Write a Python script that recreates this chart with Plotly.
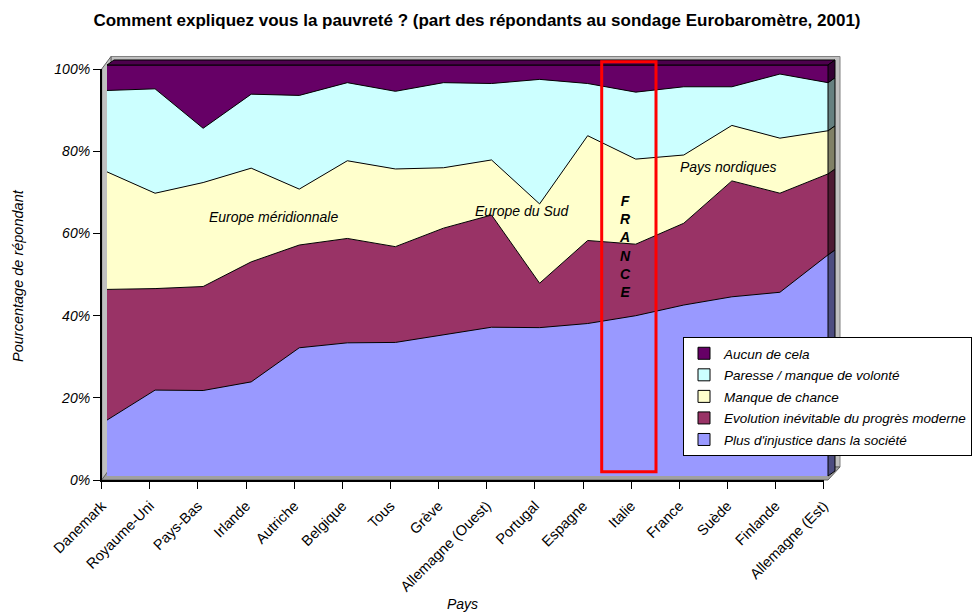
import plotly.graph_objects as go

# ---------------- data ----------------
countries = ["Danemark", "Royaume-Uni", "Pays-Bas", "Irlande", "Autriche", "Belgique",
             "Tous", "Grève", "Allemagne (Ouest)", "Portugal", "Espagne", "Italie",
             "France", "Suède", "Finlande", "Allemagne (Est)"]
injustice = [13.6, 20.9, 20.8, 22.9, 31.2, 32.4, 32.5, 34.3, 36.2, 36.1, 37.1, 39.0, 41.6, 43.6, 44.7, 53.8]
evolution = [31.8, 24.7, 25.3, 29.2, 25.0, 25.4, 23.3, 26.0, 27.3, 10.8, 20.2, 17.4, 19.9, 28.2, 24.1, 19.7]
malchance = [28.6, 23.2, 25.3, 22.8, 13.6, 18.9, 18.9, 14.7, 13.4, 19.3, 25.5, 20.7, 16.6, 13.5, 13.4, 10.5]
paresse = [19.8, 25.4, 13.2, 18.0, 22.8, 19.0, 18.9, 20.7, 18.6, 30.3, 12.7, 16.3, 16.6, 9.4, 15.6, 11.7]
aucun = [6.2, 5.8, 15.4, 7.1, 7.4, 4.3, 6.4, 4.3, 4.5, 3.5, 4.5, 6.6, 5.3, 5.3, 2.2, 4.3]

series_names = ["Plus d'injustice dans la société",
                "Evolution inévitable du progrès moderne",
                "Manque de chance",
                "Paresse / manque de volonté",
                "Aucun de cela"]
series_values = [injustice, evolution, malchance, paresse, aucun]
colors = ["#9999FF", "#993366", "#FFFFCC", "#CCFFFF", "#660066"]
side_colors = ["#4D4D80", "#4D1A33", "#808066", "#668080", "#330033"]
y_ticks = [0, 20, 40, 60, 80, 100]
y_tick_text = ["0%", "20%", "40%", "60%", "80%", "100%"]

title = "Comment expliquez vous la pauvreté ? (part des répondants au sondage Eurobaromètre, 2001)"

W, H = 973, 612
FONT = "Liberation Sans, Arial, sans-serif"


def fx(px):
    return px / W


def fy(py):
    return 1 - py / H


# plot area (front face of the 3D areas)
L, R, T, B = 107, 828, 65, 476
DX, DY = 7, 5  # depth of the 3D effect

fig = go.Figure()

for name, vals, col in zip(series_names, series_values, colors):
    fig.add_trace(go.Scatter(
        x=countries, y=vals, name=name, mode="lines",
        stackgroup="one", groupnorm="percent",
        line=dict(color="black", width=1), fillcolor=col,
        showlegend=False, hoverinfo="x+y+name",
    ))

# legend entries (square swatches)
for name, col in reversed(list(zip(series_names, colors))):
    fig.add_trace(go.Bar(
        x=[None], y=[None], name=name, legendgroup=name,
        marker=dict(color=col, line=dict(color="black", width=1)),
        showlegend=True,
    ))

# empty trace so the visible (offset) axes are drawn
fig.add_trace(go.Scatter(x=[None], y=[None], xaxis="x2", yaxis="y2",
                         showlegend=False, hoverinfo="skip", mode="lines"))

shapes = []


def poly(points, fill, line="#808080", width=1, layer="below"):
    d = "M " + " L ".join(f"{fx(px):.5f},{fy(py):.5f}" for px, py in points) + " Z"
    return dict(type="path", path=d, xref="paper", yref="paper",
                fillcolor=fill, line=dict(color=line, width=width), layer=layer)


# back wall
shapes.append(poly([(111, 56.5), (840, 56.5), (840, 467), (111, 467)], "#C0C0C0", "#808080"))
# left wall
shapes.append(poly([(101.7, 69), (111, 56.5), (111, 470), (101.7, 480)], "#C0C0C0", "#606060"))
# floor
shapes.append(poly([(101.7, 480), (828, 480), (840, 467), (111, 467)], "#A0A0A0", "#606060"))

# top face of the stack
shapes.append(poly([(L, T), (R, T), (R + DX, T - DY), (L + DX, T - DY)], "#4D004D", "black", 1, "above"))

# right side faces, derived from the last category values
cum = 0.0
tot = sum(v[-1] for v in series_values)
for vals, sc in zip(series_values, side_colors):
    b = cum
    cum += vals[-1] / tot * 100
    yb = B - (B - T) * b / 100
    yt = B - (B - T) * cum / 100
    shapes.append(poly([(R, yb), (R, yt), (R + DX, yt - DY), (R + DX, yb - DY)], sc, "black", 1, "above"))

# red highlight box
shapes.append(dict(type="rect", xref="paper", yref="paper",
                   x0=fx(601.7), x1=fx(656), y0=fy(471.7), y1=fy(61.7),
                   line=dict(color="#FF0000", width=3), fillcolor="rgba(0,0,0,0)", layer="above"))

ann_font = dict(family=FONT, size=14, color="black", style="italic")


def ann(text, px, py, font=ann_font, **kw):
    return dict(text=text, x=fx(px), y=fy(py), xref="paper", yref="paper",
                xanchor="center", yanchor="middle", showarrow=False, font=font, **kw)


annotations = [
    ann("Europe méridionnale", 273, 217),
    ann("Europe du Sud", 522.5, 211),
    ann("Pays nordiques", 728, 167),
    ann("F<br>R<br>A<br>N<br>C<br>E", 625, 246,
        font=dict(family=FONT, size=14, color="black", style="italic", weight="bold")),
    ann("Pourcentage de répondant", 18, 276,
        font=dict(family=FONT, size=14.5, color="black", style="italic"), textangle=-90),
    ann("Pays", 462, 604),
]

fig.update_layout(
    width=W, height=H,
    margin=dict(l=0, r=0, t=0, b=0, autoexpand=False),
    paper_bgcolor="white", plot_bgcolor="rgba(0,0,0,0)",
    font=dict(family=FONT, size=14, color="black"),
    title=dict(text=title, x=fx(477), y=1 - 20 / H, xanchor="center", yanchor="middle",
               font=dict(family=FONT, size=17, color="black", weight="bold")),
    xaxis=dict(domain=[fx(L), fx(R)], range=[0, 15], type="category",
               categoryorder="array", categoryarray=countries, visible=False),
    yaxis=dict(domain=[fy(B), fy(T)], range=[0, 100], visible=False),
    xaxis2=dict(domain=[fx(101.7), fx(823.7)], range=[0, 15], anchor="y2",
                tickmode="array", tickvals=list(range(len(countries))), ticktext=countries,
                tickangle=-45, ticks="outside", ticklen=7, tickcolor="black",
                ticklabelstandoff=3,
                showline=True, linecolor="black", linewidth=1.5, showgrid=False, zeroline=False,
                tickfont=dict(family=FONT, size=14.5, color="black")),
    yaxis2=dict(domain=[fy(480), fy(69)], range=[0, 100], anchor="x2",
                tickmode="array", tickvals=y_ticks, ticktext=y_tick_text,
                ticks="outside", ticklen=7, tickcolor="black",
                showline=True, linecolor="black", linewidth=1.5, showgrid=False, zeroline=False,
                tickfont=dict(family=FONT, size=14, color="black", style="italic")),
    legend=dict(x=fx(683), y=fy(337), xanchor="left", yanchor="top",
                bgcolor="white", bordercolor="black", borderwidth=1,
                font=dict(family=FONT, size=13.5, color="black", style="italic"),
                traceorder="grouped", tracegroupgap=1, itemclick=False),
    shapes=shapes,
    annotations=annotations,
    showlegend=True,
)

fig.write_html("out.html", config={"displayModeBar": False},
               post_script="document.body.style.margin='0px';")
